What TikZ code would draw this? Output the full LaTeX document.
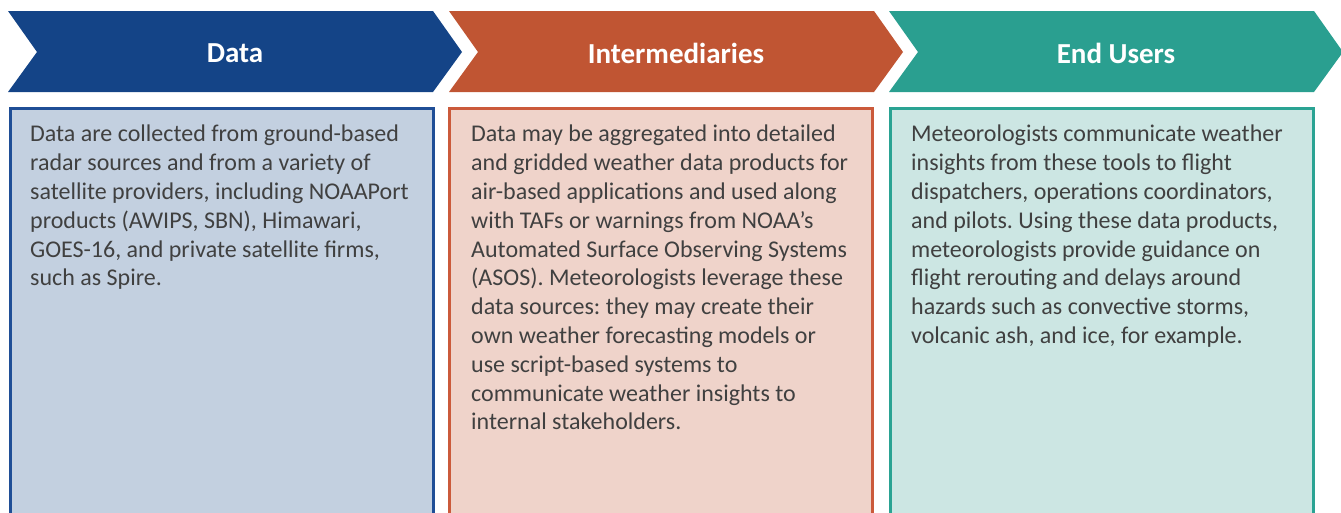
\documentclass[tikz,border=0pt]{standalone}
\usepackage{fontspec}
\setmainfont{Carlito}
\frenchspacing
\definecolor{datadark}{HTML}{144487}
\definecolor{datalight}{HTML}{C3D0E0}
\definecolor{dataline}{HTML}{1F4E96}
\definecolor{intdark}{HTML}{C05533}
\definecolor{intlight}{HTML}{EFD3CA}
\definecolor{intline}{HTML}{CB5A3B}
\definecolor{enddark}{HTML}{2A9F90}
\definecolor{endlight}{HTML}{CCE6E3}
\definecolor{endline}{HTML}{2AA393}
\definecolor{bodytext}{HTML}{404040}
\tikzset{
  title/.style={text=white, font=\fontsize{29}{34}\selectfont\bfseries},
  body/.style={anchor=north west, inner sep=0pt, align=left, text=bodytext,
    font=\fontsize{24}{28.8}\selectfont},
}
\begin{document}
\begin{tikzpicture}[x=1pt, y=-1pt]
    \useasboundingbox (0,0) rectangle (1341,512);
    \clip (0,0) rectangle (1341,512);
    % chevrons and boxes
    \foreach \x/\bx/\dark/\light/\edge/\name/\label in
        {8/10/datadark/datalight/dataline/data/Data,
         449/449/intdark/intlight/intline/inter/Intermediaries,
         889/890/enddark/endlight/endline/users/End Users} {
        \fill[\dark] (\x,11) -- (\x+425,11) -- (\x+454,52) -- (\x+425,92)
            -- (\x,92) -- (\x+29,52) -- cycle;
        \node[title] (\name) at (\x+227,53) {\label};
        \draw[\edge, fill=\light, line width=3pt] (\bx,108) rectangle (\bx+423,530);
    }
    \node[body] (datatext) at (30,125) {Data are collected from ground-based\\
        radar sources and from a variety of\\
        satellite providers, including NOAAPort\\
        products (AWIPS, SBN), Himawari,\\
        GOES-16, and private satellite firms,\\
        such as Spire.};
    \node[body] (intertext) at (471,125) {Data may be aggregated into detailed\\
        and gridded weather data products for\\
        air-based applications and used along\\
        with TAFs or warnings from NOAA’s\\
        Automated Surface Observing Systems\\
        (ASOS). Meteorologists leverage these\\
        data sources: they may create their\\
        own weather forecasting models or\\
        use script-based systems to\\
        communicate weather insights to\\
        internal stakeholders.};
    \node[body] (userstext) at (911,125) {Meteorologists communicate weather\\
        insights from these tools to flight\\
        dispatchers, operations coordinators,\\
        and pilots. Using these data products,\\
        meteorologists provide guidance on\\
        flight rerouting and delays around\\
        hazards such as convective storms,\\
        volcanic ash, and ice, for example.};
\end{tikzpicture}
\end{document}
